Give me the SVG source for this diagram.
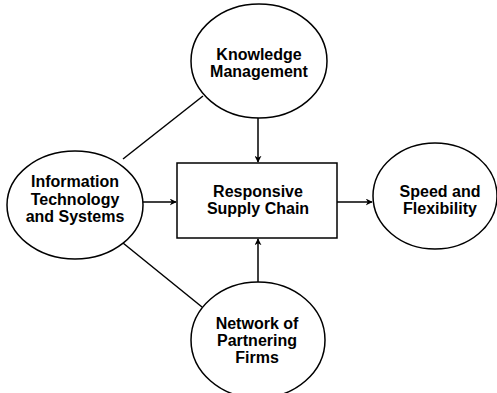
<svg xmlns="http://www.w3.org/2000/svg" width="497" height="393" viewBox="0 0 497 393">
<style>
.shape{fill:#fff;stroke:#000;stroke-width:1.5}
.edge{fill:none;stroke:#000;stroke-width:1.5}
text{font-family:"Liberation Sans",Arial,sans-serif;font-weight:bold;font-size:16px;text-anchor:middle;fill:#000}
</style>
<defs>
<marker id="arr" viewBox="0 0 10 10" refX="9" refY="5" markerWidth="7" markerHeight="7" markerUnits="userSpaceOnUse" orient="auto">
<path d="M0,0 L10,5 L0,10 L3,5 z" fill="#000"/>
</marker>
</defs>
<rect width="497" height="393" fill="#fff"/>
<g id="connectors">
<line class="edge" x1="123" y1="159" x2="203" y2="96"/>
<line class="edge" x1="123" y1="243" x2="202" y2="307"/>
<line class="edge" x1="258" y1="118" x2="258" y2="162" marker-end="url(#arr)"/>
<line class="edge" x1="143" y1="202" x2="176" y2="202" marker-end="url(#arr)"/>
<line class="edge" x1="337" y1="202" x2="372" y2="202" marker-end="url(#arr)"/>
<line class="edge" x1="258" y1="282" x2="258" y2="239" marker-end="url(#arr)"/>
</g>
<g id="km">
<ellipse class="shape" cx="259" cy="61" rx="68" ry="57"/>
<text x="259" y="60">Knowledge</text>
<text x="259" y="77">Management</text>
</g>
<g id="it">
<ellipse class="shape" cx="75" cy="205" rx="68" ry="54"/>
<text x="75" y="187">Information</text>
<text x="75" y="205">Technology</text>
<text x="75" y="222">and Systems</text>
</g>
<g id="rsc">
<rect class="shape" x="177" y="163" width="160" height="75"/>
<text x="258" y="197">Responsive</text>
<text x="258" y="214">Supply Chain</text>
</g>
<g id="sf">
<ellipse class="shape" cx="435" cy="196" rx="62" ry="53"/>
<text x="440" y="197">Speed and</text>
<text x="440" y="214">Flexibility</text>
</g>
<g id="npf">
<ellipse class="shape" cx="258" cy="340" rx="67" ry="58"/>
<text x="257" y="329">Network of</text>
<text x="257" y="346">Partnering</text>
<text x="257" y="363">Firms</text>
</g>
</svg>
